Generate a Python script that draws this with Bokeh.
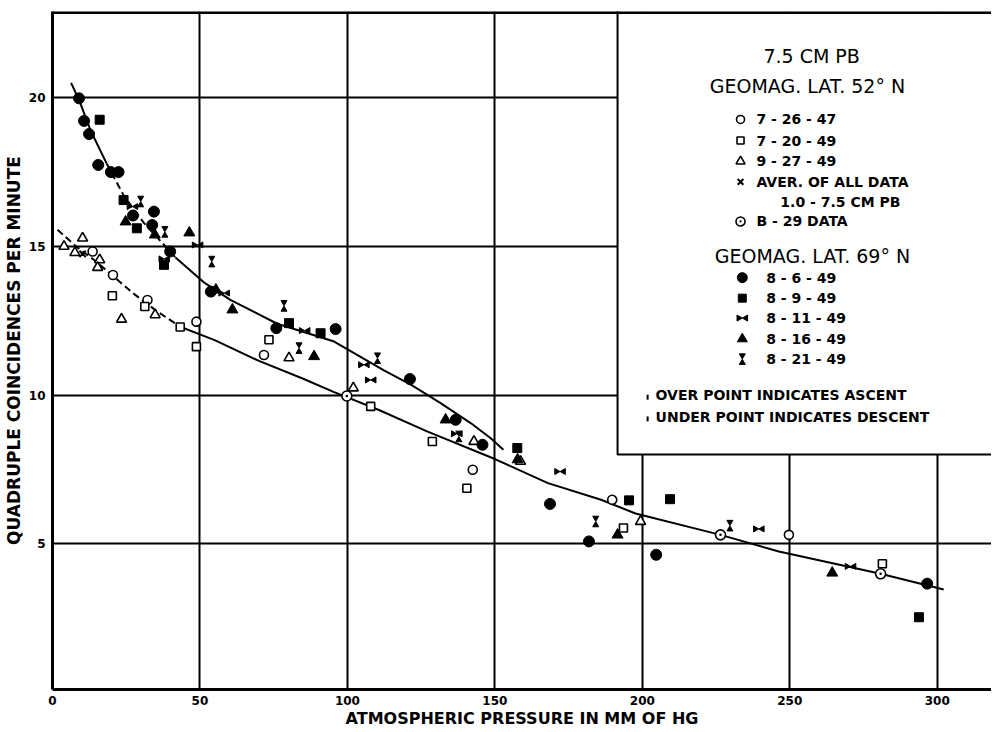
import math
from bokeh.plotting import figure
from bokeh.models import FixedTicker, Span
from bokeh.core.properties import value
from bokeh.embed import file_html
from bokeh.resources import INLINE

# ---------------- data ----------------
# Geomag. lat. 52 N
open_circle_x = [13.6, 20.5, 32.2, 48.8, 71.7, 142.5, 189.8, 249.7]          # 7-26-47
open_circle_y = [14.83, 14.04, 13.20, 12.47, 11.35, 7.49, 6.48, 5.30]
open_square_x = [20.3, 31.3, 43.3, 48.8, 73.4, 107.9, 128.8, 140.5, 193.6, 281.4]   # 7-20-49
open_square_y = [13.34, 12.98, 12.29, 11.63, 11.86, 9.62, 8.44, 6.87, 5.53, 4.33]
open_triangle_x = [3.9, 7.6, 10.2, 16.0, 15.3, 23.4, 34.8, 80.2, 102.0, 142.9, 158.7, 199.4]  # 9-27-49
open_triangle_y = [15.00, 14.79, 15.28, 14.55, 14.29, 12.55, 12.70, 11.25, 10.24, 8.44, 7.77, 5.75]
aver_x = [10.2]                                   # aver. of all data 1.0-7.5 cm Pb
aver_y = [14.75]
b29_x = [99.8, 226.5, 280.8]                       # B-29 data
b29_y = [9.97, 5.30, 3.99]

# Geomag. lat. 69 N
filled_circle_x = [9.0, 10.7, 12.4, 15.5, 19.8, 22.4, 27.3, 34.4, 33.8, 39.9, 53.7, 75.9,
                   96.0, 121.2, 136.7, 145.8, 168.7, 181.9, 204.7, 296.6]            # 8-6-49
filled_circle_y = [19.98, 19.22, 18.78, 17.74, 17.50, 17.50, 16.04, 16.17, 15.72, 14.83, 13.48, 12.25,
                   12.22, 10.54, 9.17, 8.33, 6.34, 5.08, 4.63, 3.66]
filled_square_x = [16.0, 24.1, 28.6, 37.8, 80.2, 90.9, 157.6, 195.5, 209.4, 293.8]   # 8-9-49
filled_square_y = [19.26, 16.56, 15.61, 14.38, 12.42, 12.08, 8.22, 6.46, 6.50, 2.53]
bowtie_x = [27.1, 37.9, 49.2, 58.2, 85.5, 105.6, 107.9, 137.1, 172.1, 239.5, 270.6]  # 8-11-49
bowtie_y = [16.34, 14.58, 15.05, 13.43, 12.17, 11.02, 10.51, 8.70, 7.43, 5.50, 4.24]
filled_triangle_x = [24.8, 34.7, 46.4, 55.4, 61.0, 88.7, 133.3, 157.7, 191.6, 264.4]  # 8-16-49
filled_triangle_y = [15.83, 15.39, 15.46, 13.54, 12.87, 11.30, 9.17, 7.83, 5.30, 4.02]
hourglass_x = [29.9, 38.1, 54.0, 78.5, 83.6, 110.2, 137.8, 184.2, 229.7]            # 8-21-49
hourglass_y = [16.51, 15.49, 14.49, 13.00, 11.58, 11.24, 8.61, 5.75, 5.61]

# hand-drawn curves
upper_curve_x = [6.3, 9.1, 12.9, 18.3, 24.2, 30.9, 41.7, 51.2, 60.3, 76.2, 95.5, 112.4,
                 121.5, 131.6, 141.8, 148.6, 152.9]
upper_curve_y = [20.5, 19.9, 18.9, 17.8, 16.7, 15.8, 14.63, 13.8, 13.2, 12.4, 11.8, 10.83,
                 10.35, 9.73, 9.06, 8.55, 8.16]
lower_curve_x = [1.7, 8, 14, 20, 27, 35, 43.3, 55, 70, 85, 95.5, 110.7, 127, 150, 168, 186,
                 197.7, 226.5, 246.3, 280.8, 302.2]
lower_curve_y = [15.56, 15.0, 14.55, 14.05, 13.45, 12.85, 12.3, 11.85, 11.15, 10.55, 10.1, 9.5,
                 8.78, 7.85, 7.04, 6.48, 6.02, 5.3, 4.74, 3.99, 3.46]

x_ticks = [0, 50, 100, 150, 200, 250, 300]
y_ticks = [5, 10, 15, 20]

legend_52 = ["7 - 26 - 47", "7 - 20 - 49", "9 - 27 - 49", "AVER. OF ALL DATA", "1.0 - 7.5 CM PB", "B - 29 DATA"]
legend_69 = ["8 - 6 - 49", "8 - 9 - 49", "8 - 11 - 49", "8 - 16 - 49", "8 - 21 - 49"]

# ---------------- figure ----------------
FONT = value("DejaVu Sans")
X0, X1 = 0, 318.4
Y0, Y1 = 0.1, 22.9

p = figure(frame_width=939, frame_height=678, x_range=(X0, X1), y_range=(Y0, Y1),
           output_backend="svg", toolbar_location=None, title=None,
           min_border_left=47, min_border_right=0, min_border_top=11, min_border_bottom=0)
p.outline_line_color = None
p.background_fill_color = "white"
p.border_fill_color = "white"

for ax, ticks in ((p.xaxis, x_ticks), (p.yaxis, y_ticks)):
    ax.ticker = FixedTicker(ticks=ticks)
    ax.axis_line_width = 3
    ax.axis_line_color = "black"
    ax.major_tick_out = 0
    ax.major_tick_in = 0
    ax.minor_tick_out = 0
    ax.minor_tick_in = 0
    ax.major_tick_line_color = None
    ax.minor_tick_line_color = None
    ax.major_label_text_font = "DejaVu Sans"
    ax.major_label_text_font_style = "bold"
    ax.major_label_text_font_size = "12px"
    ax.major_label_text_color = "black"
    ax.axis_label_text_font = "DejaVu Sans"
    ax.axis_label_text_font_style = "bold"
    ax.axis_label_text_color = "black"

p.xaxis.axis_label = "ATMOSPHERIC PRESSURE IN MM OF HG"
p.xaxis.axis_label_text_font_size = "16px"
p.xaxis.major_label_standoff = 6
p.xaxis.axis_label_standoff = 1
p.yaxis.axis_label = "QUADRUPLE COINCIDENCES PER MINUTE"
p.yaxis.axis_label_text_font_size = "17px"
p.yaxis.major_label_standoff = 7
p.yaxis.axis_label_standoff = 2

p.xgrid.ticker = FixedTicker(ticks=x_ticks)
p.ygrid.ticker = FixedTicker(ticks=y_ticks)
for g in (p.xgrid, p.ygrid):
    g.grid_line_color = "black"
    g.grid_line_width = 2
    g.grid_line_alpha = 1.0

p.add_layout(Span(location=Y1 - 0.03, dimension="width", line_color="black", line_width=3))

# legend box (covers the grid)
p.quad(left=[191.6], right=[400], bottom=[8.0], top=[30], fill_color="white",
       line_color="black", line_width=2)

# curves
p.line(upper_curve_x[:4], upper_curve_y[:4], line_color="black", line_width=2)
p.line(upper_curve_x[3:7], upper_curve_y[3:7], line_color="black", line_width=2, line_dash="7 4")
p.line(upper_curve_x[6:], upper_curve_y[6:], line_color="black", line_width=2)
p.line(lower_curve_x[:7], lower_curve_y[:7], line_color="black", line_width=2, line_dash="7 4")
p.line(lower_curve_x[6:], lower_curve_y[6:], line_color="black", line_width=2)

BOW_DX = 1.2
HG_DY = 0.12


def open_marker(xs, ys, marker, size):
    p.scatter(xs, ys, marker=marker, size=size, fill_color="white", line_color="black", line_width=1.6)


def filled_marker(xs, ys, marker, size):
    p.scatter(xs, ys, marker=marker, size=size, fill_color="black", line_color="black", line_width=1)


def bowtie(xs, ys):
    p.scatter([x - BOW_DX for x in xs], ys, marker="triangle", angle=-math.pi / 2, size=6,
              fill_color="black", line_color="black")
    p.scatter([x + BOW_DX for x in xs], ys, marker="triangle", angle=math.pi / 2, size=6,
              fill_color="black", line_color="black")


def hourglass(xs, ys):
    p.scatter(xs, [y - HG_DY for y in ys], marker="triangle", size=6, fill_color="black", line_color="black")
    p.scatter(xs, [y + HG_DY for y in ys], marker="inverted_triangle", size=6, fill_color="black", line_color="black")


open_marker(open_circle_x, open_circle_y, "circle", 9)
open_marker(open_square_x, open_square_y, "square", 8)
open_marker(open_triangle_x, open_triangle_y, "triangle", 10)
p.scatter(aver_x, aver_y, marker="x", size=9, line_color="black", line_width=2)
open_marker(b29_x, b29_y, "circle_dot", 10)
filled_marker(filled_circle_x, filled_circle_y, "circle", 11)
filled_marker(filled_square_x, filled_square_y, "square", 9)
bowtie(bowtie_x, bowtie_y)
filled_marker(filled_triangle_x, filled_triangle_y, "triangle", 11)
hourglass(hourglass_x, hourglass_y)

# ---------------- legend ----------------
SX1, TX1 = 233.3, 238.7
rows52 = [19.27, 18.56, 17.86, 17.17, 16.51, 15.84]
SX2, TX2 = 233.9, 242.0
rows69 = [13.95, 13.26, 12.59, 11.89, 11.21]

p.text(x=[257.4, 256.0, 257.7], y=[21.42, 20.40, 14.68],
       text=["7.5 CM PB", "GEOMAG. LAT. 52° N", "GEOMAG. LAT. 69° N"],
       text_font=FONT, text_font_size="19px", text_align="center", text_baseline="middle",
       text_color="black")
p.text(x=[TX1, TX1, TX1, TX1, 246.8, TX1], y=rows52, text=legend_52,
       text_font=FONT, text_font_size="14px", text_font_style="bold",
       text_align="left", text_baseline="middle", text_color="black")
p.text(x=[TX2] * 5, y=rows69, text=legend_69,
       text_font=FONT, text_font_size="14px", text_font_style="bold",
       text_align="left", text_baseline="middle", text_color="black")
p.text(x=[204.5, 204.5], y=[9.99, 9.26],
       text=["OVER POINT INDICATES ASCENT", "UNDER POINT INDICATES DESCENT"],
       text_font=FONT, text_font_size="14px", text_font_style="bold",
       text_align="left", text_baseline="middle", text_color="black")
p.scatter([201.8, 201.8], [9.93, 9.20], marker="dash", angle=math.pi / 2, size=5,
          line_color="black", line_width=2)

open_marker([SX1], [rows52[0]], "circle", 8)
open_marker([SX1], [rows52[1]], "square", 7)
open_marker([SX1], [rows52[2]], "triangle", 9)
p.scatter([SX1], [rows52[3]], marker="x", size=8, line_color="black", line_width=2)
open_marker([SX1], [rows52[5]], "circle_dot", 9)
filled_marker([SX2], [rows69[0]], "circle", 10)
filled_marker([SX2], [rows69[1]], "square", 8)
bowtie([SX2], [rows69[2]])
filled_marker([SX2], [rows69[3]], "triangle", 10)
hourglass([SX2], [rows69[4]])

open("out.html", "w").write(file_html(p, INLINE))
